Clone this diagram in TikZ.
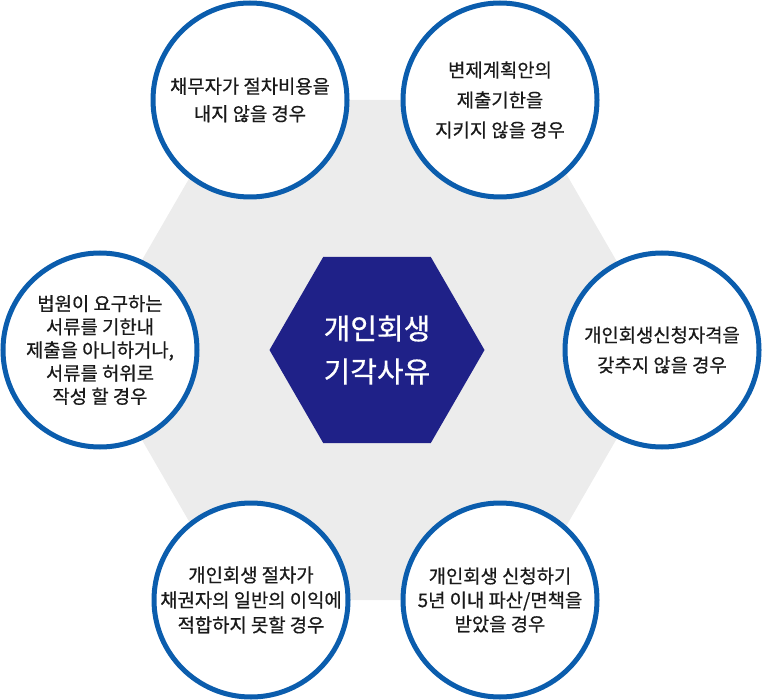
\documentclass[tikz,border=0pt]{standalone}
\usepackage{fontspec}
\setmainfont{Noto Sans CJK KR}[FakeBold=0.6]
\definecolor{ringblue}{HTML}{0B5DAD}
\definecolor{navyhex}{HTML}{1F2188}
\definecolor{hexgrey}{HTML}{ECECEC}
\definecolor{inkc}{HTML}{1A1A1A}
\begin{document}
\begin{tikzpicture}[x=1pt,y=-1pt,
  ring/.style={circle,draw=ringblue,line width=5pt,fill=white,minimum size=194pt,inner sep=0pt,align=center,text=inkc},
  ringfont/.style={font=\fontsize{18.8}{#1}\selectfont},
  titletext/.style={align=center,text=white,font=\fontsize{29}{43}\selectfont}
  ]
\useasboundingbox (0,0) rectangle (762,700);
\fill[hexgrey] (90,350) -- (234.5,100) -- (523.5,100) -- (668,350) -- (523.5,600) -- (234.5,600) -- cycle;
\fill[navyhex] (269.5,350) -- (323.25,256.9) -- (430.75,256.9) -- (484.5,350) -- (430.75,443.1) -- (323.25,443.1) -- cycle;
\node[titletext] (title) at (377,350) {개인회생\\기각사유};
\node[ring,ringfont=27.5] (c1) at (250,100) {채무자가 절차비용을\\내지 않을 경우};
\node[ring,ringfont=30] (c2) at (500,100) {변제계획안의\\제출기한을\\지키지 않을 경우};
\node[ring,ringfont=30] (c3) at (662,350) {개인회생신청자격을\\갖추지 않을 경우};
\node[ring,ringfont=24] (c4) at (500,600) {개인회생 신청하기\\5년 이내 파산/면책을\\받았을 경우};
\node[ring,ringfont=25] (c5) at (251,600) {개인회생 절차가\\채권자의 일반의 이익에\\적합하지 못할 경우};
\node[ring,ringfont=23.2] (c6) at (100,350) {법원이 요구하는\\서류를 기한내\\제출을 아니하거나,\\서류를 허위로\\작성 할 경우};
\end{tikzpicture}
\end{document}
